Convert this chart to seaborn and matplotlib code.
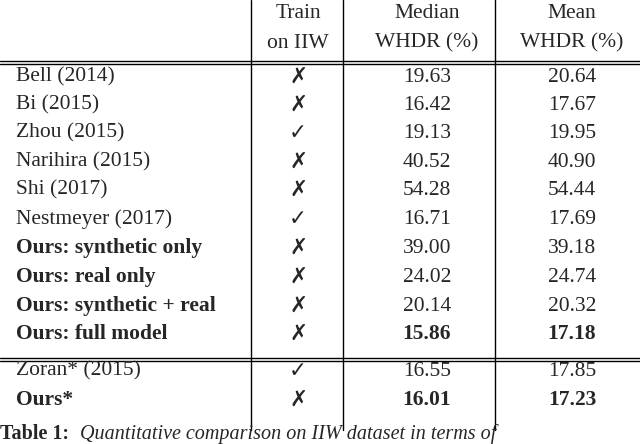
import matplotlib
matplotlib.use("Agg")
import matplotlib.pyplot as plt
import seaborn as sns

sns.set_style("white")
plt.rcParams['font.family'] = ['Liberation Serif', 'DejaVu Sans']

methods = ['Bell (2014)', 'Bi (2015)', 'Zhou (2015)', 'Narihira (2015)', 'Shi (2017)',
           'Nestmeyer (2017)', 'Ours: synthetic only', 'Ours: real only',
           'Ours: synthetic + real', 'Ours: full model', 'Zoran* (2015)', 'Ours*']
train_iiw = [False, False, True, False, False, True, False, False, False, False, True, False]
median = ['19.63', '16.42', '19.13', '40.52', '54.28', '16.71', '39.00', '24.02', '20.14', '15.86', '16.55', '16.01']
mean = ['20.64', '17.67', '19.95', '40.90', '54.44', '17.69', '39.18', '24.74', '20.32', '17.18', '17.85', '17.23']
bold_name = [False] * 6 + [True] * 4 + [False, True]
bold_vals = [False] * 9 + [True, False, True]

fig = plt.figure(figsize=(6.4, 4.44), dpi=100)
ax = fig.add_axes([0, 0, 1, 1])
ax.set_xlim(0, 640)
ax.set_ylim(444, 0)
ax.axis('off')

fs = 15.5
col_x = [298, 427, 572]
ax.text(col_x[0], 14, 'Train', ha='center', va='center', fontsize=fs)
ax.text(col_x[0], 43, 'on IIW', ha='center', va='center', fontsize=fs)
ax.text(col_x[1], 14, 'Median', ha='center', va='center', fontsize=fs)
ax.text(col_x[1], 43, 'WHDR (%)', ha='center', va='center', fontsize=fs)
ax.text(col_x[2], 14, 'Mean', ha='center', va='center', fontsize=fs)
ax.text(col_x[2], 43, 'WHDR (%)', ha='center', va='center', fontsize=fs)

row_y = [77, 105, 133, 162, 190, 219, 248, 277, 306, 334, 371, 400]
for i, name in enumerate(methods):
    y = row_y[i]
    ax.text(16, y, name, ha='left', va='center', fontsize=fs,
            fontweight='bold' if bold_name[i] else 'normal')
    ax.text(col_x[0], y, '\u2713' if train_iiw[i] else '\u2717', ha='center', va='center',
            fontsize=fs, fontweight='bold', family=['DejaVu Sans'])
    w = 'bold' if bold_vals[i] else 'normal'
    ax.text(col_x[1], y, median[i], ha='center', va='center', fontsize=fs, fontweight=w)
    ax.text(col_x[2], y, mean[i], ha='center', va='center', fontsize=fs, fontweight=w)

for x in [251, 343, 495]:
    ax.plot([x, x], [0, 430], color='black', lw=1)
for y in [61, 64, 358, 361]:
    ax.plot([0, 640], [y, y], color='black', lw=1)

ax.text(0, 434, 'Table 1:', ha='left', va='center', fontsize=fs - 1, fontweight='bold')
ax.text(80, 434, 'Quantitative comparison on IIW dataset in terms of', ha='left', va='center',
        fontsize=fs - 1, style='italic')

fig.savefig('out.png', dpi=100)
